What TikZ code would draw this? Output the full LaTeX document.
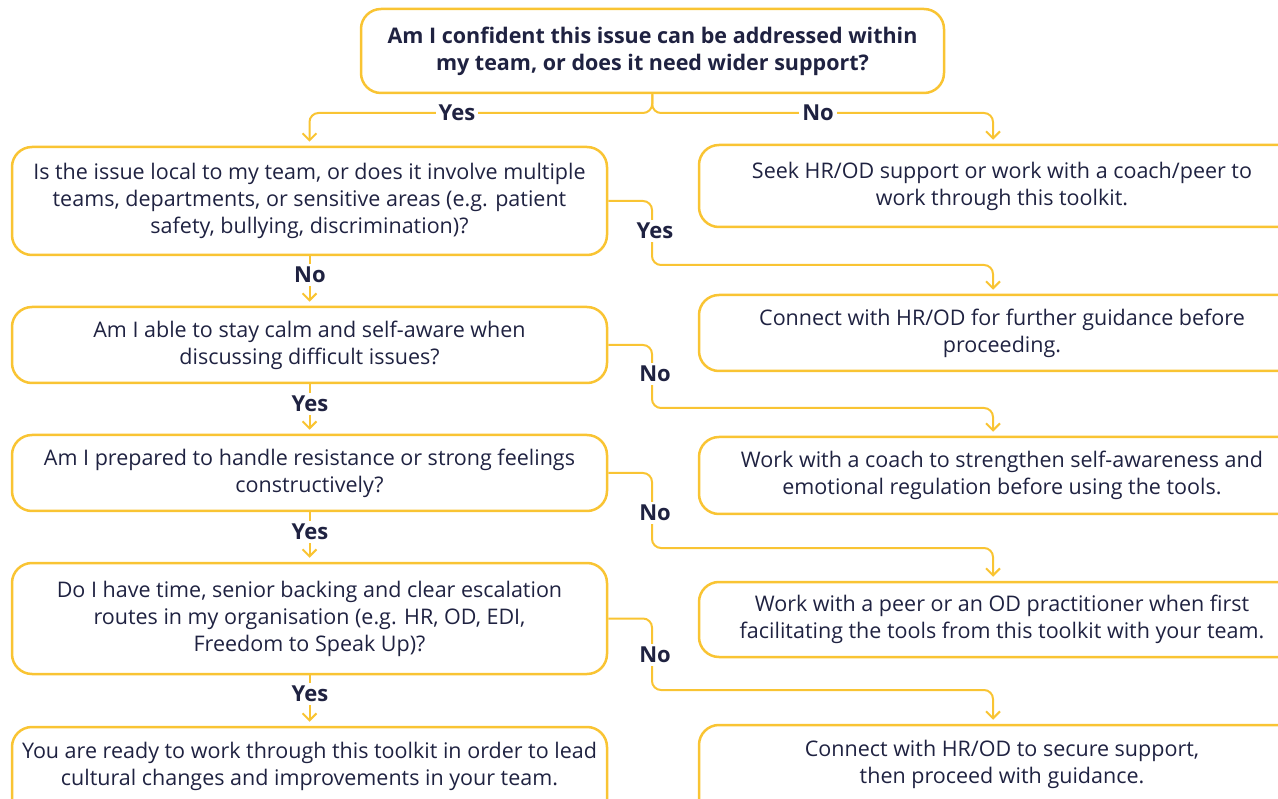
\documentclass[tikz,border=0pt]{standalone}
\usepackage{fontspec}
\setmainfont{Open Sans}
\usetikzlibrary{arrows.meta}
\definecolor{gold}{HTML}{F9C433}
\definecolor{ink}{HTML}{1F2241}

\begin{document}
\begin{tikzpicture}[x=1pt,y=-1pt,
  box/.style={draw=gold,line width=2.5pt,rounded corners=20pt,align=center,text=ink,inner sep=0pt,font=\fontsize{21.5}{27}\selectfont},
  link/.style={draw=gold,line width=2pt,rounded corners=9pt,-{Straight Barb[length=7pt,width=14pt]},shorten >=4pt},
  lab/.style={fill=white,text=ink,font=\bfseries\fontsize{22}{24}\selectfont,inner sep=3pt}]
\useasboundingbox (0,0) rectangle (1278,799);
% question column
\node[box,font=\bfseries\fontsize{21.5}{27}\selectfont,minimum width=583,minimum height=84] (top) at (652.5,51) {Am I confident this issue can be addressed within\\ my team, or does it need wider support?};
\node[box,minimum width=595,minimum height=108] (l1) at (309.5,201) {Is the issue local to my team, or does it involve multiple\\ teams, departments, or sensitive areas (e.g. patient\\ safety, bullying, discrimination)?};
\node[box,minimum width=595,minimum height=76] (l2) at (309.5,345) {Am I able to stay calm and self-aware when\\ discussing difficult issues?};
\node[box,minimum width=595,minimum height=76] (l3) at (309.5,473) {Am I prepared to handle resistance or strong feelings\\ constructively?};
\node[box,minimum width=595,minimum height=111] (l4) at (309.5,618.5) {Do I have time, senior backing and clear escalation\\ routes in my organisation (e.g. HR, OD, EDI,\\ Freedom to Speak Up)?};
\node[box,minimum width=595,minimum height=96] (l5) at (309.5,775) {You are ready to work through this toolkit in order to lead\\ cultural changes and improvements in your team.\\[-12pt] \strut};
% support column
\node[box,minimum width=606,minimum height=82] (r1) at (1002,186) {Seek HR/OD support or work with a coach/peer to\\ work through this toolkit.};
\node[box,minimum width=606,minimum height=76] (r2) at (1002,333) {Connect with HR/OD for further guidance before\\ proceeding.};
\node[box,minimum width=606,minimum height=77] (r3) at (1002,475.5) {Work with a coach to strengthen self-awareness and\\ emotional regulation before using the tools.};
\node[box,minimum width=606,minimum height=75] (r4) at (1002,619.5) {Work with a peer or an OD practitioner when first\\ facilitating the tools from this toolkit with your team.};
\node[box,minimum width=606,minimum height=96] (r5) at (1002,773) {Connect with HR/OD to secure support,\\ then proceed with guidance.\\[-12pt] \strut};
% first split
\coordinate (split) at (652,113);
\draw[link] (top.south) -- (split) -| (l1.north);
\draw[link] (top.south) -- (split) -| ([xshift=-9pt]r1.north);
\node[lab] (yes0) at (457,113) {Yes};
\node[lab] (no0) at (818,113) {No};
% down the questions
\foreach \a/\b/\t/\ly in {l1/l2/No/275, l2/l3/Yes/404, l3/l4/Yes/532, l4/l5/Yes/694} {
  \draw[link] (\a.south) -- (\b.north);
  \node[lab] (down-\a) at (310,\ly) {\t};
}
% across to support
\foreach \a/\b/\y/\t/\ly in {l1/r2/265/Yes/231, l2/r3/408/No/374, l3/r4/548/No/513, l4/r5/690/No/655} {
  \draw[link] (\a.east) -| (652,\y) -| ([xshift=-9pt]\b.north);
  \node[lab] (side-\a) at (655,\ly) {\t};
}
\end{tikzpicture}
\end{document}
